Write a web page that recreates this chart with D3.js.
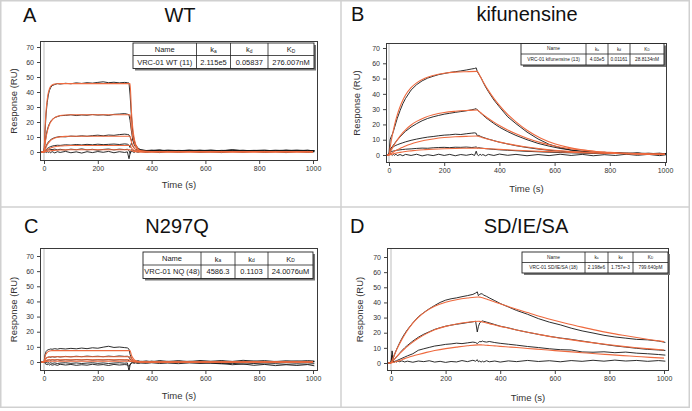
<!DOCTYPE html>
<html><head><meta charset="utf-8">
<script src="https://cdn.jsdelivr.net/npm/d3@7"></script>
<style>html,body{margin:0;padding:0;background:#fff;} svg{display:block;font-family:"Liberation Sans",Arial,sans-serif;}</style>
</head><body><svg id="c" width="692" height="411"></svg>
<script>
// ---------- data ----------
const timeObs = [-10,0,4,8,12,16,20,25,30,40,50,60,80,100,120,140,160,180,200,220,240,260,280,300,310,316,320,325,330,335,340,350,360,380,400,430,460,500,540,580,620,660,700,740,780,820,860,900,940,980,1005];
const timeFit = [-10,0,4,8,12,16,20,25,30,40,50,60,80,100,130,160,200,240,280,320,325,330,335,340,350,360,380,400,430,460,500,550,600,650,700,750,800,850,900,950,1000];
const xTicks = [0,200,400,600,800,1000];
const yTicks = [0,10,20,30,40,50,60,70];
const panelLetters = ["A","B","C","D"];
const panelTitles = ["WT","kifunensine","N297Q","SD/IE/SA"];
const tableHeader = ["Name",["k","a"],["k","d"],["K","D"]];
const tableRowWT  = ["VRC-01 WT (11)","2.115e5","0.05837","276.007nM"];
const tableRowKif = ["VRC-01 kifunensine (13)","4.03e5","0.01161","28.8134nM"];
const tableRowNQ  = ["VRC-01 NQ (48)","4586.3","0.1103","24.0076uM"];
const tableRowSD  = ["VRC-01 SD/IE/SA (18)","2.198e6","1.757e-3","799.640pM"];

// WT
const wtObs1=[0.3,0,14,26,33,38,41,43,44.2,45, 45.6,45.3,45.8,45.5,46.1,45.7,46.2,45.9,46.4,46.8, 46.2,46.5,46.1,46.4,46.2,46,38,24,13,8, 5,2.5,1.5,1,1.2,0.8,1.3,0.9,1.2,0.7, 1.1,0.9,1.4,0.8,1.1,0.7,1.2,0.9,1.3,0.8, 1.0];
const wtObs2=[0,0.2,6,11,14.5,17,18.8,20.5,21.6,23, 23.6,24.2,24.4,24.8,24.3,24.7,24.5,25,24.6,24.8, 24.4,25.1,25.3,25.6,25.2,24.8,21,14,8,5, 3.5,2,1.3,0.9,1,1.4,0.7,1.1,0.8,1.3, 0.6,1.1,0.9,1.2,0.6,1,0.8,1.3,0.7,1.1, 0.8];
const wtObs3=[0,0,2,4,5.5,6.6,7.4,8.2,8.8,9.6, 10,10.3,10.1,10.6,10.4,10.8,10.5,10.9,11.2,10.8, 11.3,11.1,11.6,11.9,11.7,11.4,10,7.5,9,6, 3.5,2,1.2,0.8,1.1,0.6,1,0.7,1.2,0.9, 1.3,0.7,1.5,0.8,1,1.3,0.6,1.1,0.9,1.2, 0.7];
const wtObs4=[0,0,0.8,1.6,2.3,2.8,3.2,3.6,3.9,4.3, 4.5,4.4,4.8,4.6,5,4.7,5.1,4.8,5.2,4.9, 5.1,5.3,5,5.4,5.2,4.5,3,6,4,2.5, 1.8,1.2,0.9,0.7,0.9,1.2,0.5,0.9,0.6,1, 0.8,0.5,1,0.7,0.9,0.5,1,0.7,0.9,0.6, 0.9];
const wtObs5=[0,0,0.5,0.9,1.2,1.4,1.5,1.7,1.6,1.9, 1.5,1.8,1.3,1.9,1.5,2.1,1.4,1.8,1.2,1.7, 2,1.4,1.9,1.6,1.8,1,-1,1.5,1.2,1, 0.8,0.6,0.4,0.6,0.3,0.7,0.2,0.5,0.3,0.6, 0.2,0.5,0.3,0.6,0.4,0.2,0.5,0.3,0.6,0.2, 0.5];
const wtObs6=[0.2,-0.2,0.3,-0.4,0.2,-0.3,0.1,-0.5,0.3,-0.6, 0.2,-0.3,0.4,-0.5,0.1,-0.7,0.2,-0.4,0.3,-0.2, 0.4,-0.5,0.2,-0.3,0.1,-4.5,-1,0.5,0.2,-0.3, 0.3,-0.2,0.4,-0.3,0.2,-0.4,0.3,-0.2,0.4,-0.3, 0.1,-0.4,0.3,-0.2,0.4,-0.3,0.2,-0.4,0.3,-0.2, 0.1];
const wtFit1=[0,0,16,28,35,39.5,42,43.8,44.7,45.3, 45.5,45.6,45.6,45.6,45.6,45.6,45.6,45.6,45.6,45.6, 27,16,9.5,5.6,2,0.8,0.4,0.3,0.3,0.3, 0.3,0.3,0.3,0.3,0.3,0.3,0.3,0.3,0.3,0.3, 0.3];
const wtFit2=[0,0,5.5,10,13.5,16.2,18.2,20,21.3,22.9, 23.8,24.3,24.7,24.8,24.8,24.8,24.8,24.8,24.8,24.8, 16,10,6.2,3.9,1.5,0.6,0.3,0.3,0.3,0.3, 0.3,0.3,0.3,0.3,0.3,0.3,0.3,0.3,0.3,0.3, 0.3];
const wtFit3=[0,0,1.8,3.4,4.8,5.9,6.8,7.7,8.4,9.3, 9.8,10.1,10.4,10.5,10.5,10.5,10.5,10.5,10.5,10.5, 6.8,4.3,2.7,1.7,0.7,0.3,0.2,0.2,0.2,0.2, 0.2,0.2,0.2,0.2,0.2,0.2,0.2,0.2,0.2,0.2, 0.2];
const wtFit4=[0,0,0.6,1.1,1.6,2,2.3,2.7,3,3.5, 3.8,4,4.2,4.3,4.3,4.3,4.3,4.3,4.3,4.3, 2.8,1.8,1.1,0.7,0.3,0.1,0,0,0,0, 0,0,0,0,0,0,0,0,0,0, 0];
const wtFit5=[0,0,0.2,0.4,0.5,0.6,0.7,0.85,0.95,1.1, 1.25,1.33,1.43,1.48,1.5,1.5,1.5,1.5,1.5,1.5, 1,0.6,0.4,0.25,0.1,0.04,0,0,0,0, 0,0,0,0,0,0,0,0,0,0, 0];

// kifunensine
const kifObs1=[0,0.5,10,12,13.5,15.5,18,21,24,29, 33.5,37,42.5,46,48.5,50.3,51.5,52.6,53.3,54, 54.5,55,55.6,56.3,56.6,57,54.5,53,51.5,50, 48,44.5,41.5,36,31.5,25,20.5,15,10.5,7, 4.8,3.2,2.3,1.8,1.2,1.6,0.9,1.4,0.8,1.2, 0.7];
const kifObs2=[0,0.3,3.5,4.5,5.5,6.5,7.5,8.7,9.8,11.8, 13.8,15.5,18.3,20.5,22.4,23.9,25,25.9,26.7,27.3, 27.9,28.4,28.9,29.6,30,30.3,29.5,28.8,27.8,27, 26.2,24.5,23.2,20.6,18.2,15.3,12.8,10,7.6,5.8, 4.3,3.2,2.4,1.8,1.3,1.6,0.9,1.2,0.6,1, 0.7];
const kifObs3=[0,0.2,4,4.5,5,5.4,5.8,6.3,6.7,7.4, 8,8.6,9.6,10.4,11.1,11.7,12.1,12.6,13,13.2, 13.6,13.4,13.9,14.3,14.5,14.2,12.5,12.8,12.3,12, 11.6,11,10.4,9.4,8.4,7.2,6.1,4.9,3.9,3.1, 2.5,2,1.6,1.3,1.8,1,1.4,0.8,1.2,0.7, 1];
const kifObs4=[0,0,2.5,2.2,2.4,2.6,2.8,3,3.1,3.4, 3.6,3.8,4,4.3,4.5,4.4,4.7,4.9,5,4.8, 5.1,5,5.2,4.9,5.1,5.3,4.6,4.8,4.6,4.5, 4.4,4.2,4,3.7,3.4,3.1,2.8,2.4,2.1,1.8, 1.6,1.4,1.2,1.1,0.9,1.3,0.8,1.1,0.7,1, 0.8];
const kifObs5=[0,0.2,1.5,0.4,-0.3,0.5,-0.2,0.6,-0.4,0.3, -0.5,0.4,-0.3,0.5,-0.6,0.2,-0.4,0.5,-0.3,0.4, -0.5,0.3,-0.2,0.5,-0.3,2.5,0.2,-0.4,0.5,-0.2, 0.3,-0.5,0.4,-0.3,0.6,-0.2,0.4,-0.5,0.3,-0.4, 0.5,-0.3,0.4,-0.5,0.2,-0.3,0.5,-0.2,0.4,-0.4, 0.2];
const kifFit1=[0,0,4.7,9,12.8,16.3,19.5,23.1,26.3,31.6, 35.8,39.2,44,47.2,50.2,52,53.5,54.2,54.5,54.7, 53.4,51.6,49.9,48.3,45.2,42.3,37,32.4,26.5,21.7, 16.2,11,7.4,5,3.4,2.3,1.5,1,0.7,0.5, 0.3];
const kifFit2=[0,0,1.6,3.1,4.5,5.8,7,8.5,9.9,12.4, 14.6,16.5,19.6,22,24.6,26.3,27.8,28.6,29.1,29.4, 28.7,28,27.3,26.6,25.2,23.9,21.5,19.3,16.4,13.9, 11,8.1,5.9,4.3,3.2,2.3,1.7,1.2,0.9,0.7, 0.5];
const kifFit3=[0,0,0.5,1,1.5,1.9,2.4,2.9,3.4,4.3, 5.1,5.9,7.2,8.3,9.6,10.5,11.4,11.9,12.2,12.4, 12.2,11.9,11.6,11.3,10.8,10.3,9.3,8.4,7.3,6.3, 5.2,4,3.1,2.4,1.9,1.5,1.1,0.9,0.7,0.5, 0.4];
const kifFit4=[0,0,0.2,0.4,0.6,0.8,1,1.2,1.4,1.7, 2,2.3,2.7,3.1,3.5,3.8,4.1,4.3,4.4,4.5, 4.45,4.4,4.35,4.3,4.2,4.1,3.9,3.7,3.4,3.1, 2.8,2.4,2.1,1.8,1.5,1.3,1.1,0.95,0.8,0.7, 0.6];

// N297Q
const nqObs1=[0.2,0,5,7,7.8,8.2,8.3,8.6,8.4,8.8, 8.5,8.9,8.6,9,8.7,9.2,8.8,9.4,9.1,9.8, 10.4,9.6,9.9,9.5,9.3,8.5,5,2.5,1.2,0.6, 0.5,0.8,0.3,0.7,0.2,0.9,0.4,0.8,0.3,1, 0.5,0.9,0.4,1.1,0.6,0.9,0.3,0.8,0.5,0.9, 0.6];
const nqObs2=[0,0,1.8,2.6,3,3.2,3.3,3.1,3.5,3.2, 3.6,3.3,3.7,3.4,3.8,3.5,3.9,3.6,3.8,3.5, 3.9,3.6,4,3.7,3.8,3.2,2,1,0.6,0.3, 0.2,0.5,-0.1,0.4,-0.2,0.5,0,0.6,-0.1,0.4, 0.1,0.6,-0.2,0.3,0.5,-0.1,0.4,0.1,0.6,0, 0.3];
const nqObs3=[0,0,0.6,0.9,1.1,1.2,1.4,1.1,1.5,1.2, 1.6,1.1,1.5,1.2,1.6,1.3,1.7,1.2,1.5,1.3, 1.6,1.2,1.5,1.3,1.4,0.8,0.4,0.2,0,-0.2, 0.1,-0.3,0.2,-0.4,0.1,-0.3,0.3,-0.2,0.2,-0.4, 0.1,-0.3,0.2,-0.2,0.3,-0.4,0,-0.3,0.2,-0.2, 0.1];
const nqObs4=[0,0,-0.5,-0.3,-0.7,-0.4,-0.8,-0.5,-0.9,-0.6, -1,-0.7,-0.5,-0.9,-0.6,-1,-0.7,-0.5,-0.9,-0.6, -1,-0.7,-0.5,-0.8,-0.6,-6,-2,-0.8,-0.5,-0.9, -0.6,-1,-0.7,-0.9,-0.5,-1,-0.7,-1.1,-0.6,-1, -0.8,-1.2,-0.9,-1.4,-1,-1.3,-1.1,-1.5,-1.2,-1.4, -1.1];
const nqObs5=[0,0,-1,-1.5,-1.8,-1.4,-2,-1.6,-2.1,-1.7, -2.2,-1.5,-2,-1.6,-2.2,-1.8,-2.1,-1.5,-2,-1.7, -2.3,-1.6,-2,-1.7,-1.9,-3,-1.5,-0.5,0.2,-0.3, 0.4,-0.2,0.5,0,0.6,-0.1,0.4,-0.3,0.5,0, -0.6,-1,-1.8,-1.3,-2.2,-1.6,-2.4,-1.8,-2.3,-1.7, -2.5];
const nqFit1=[0,0,3.5,5.4,6.4,6.9,7.2,7.4,7.5,7.5, 7.5,7.5,7.5,7.5,7.5,7.5,7.5,7.5,7.5,7.5, 4.5,2.7,1.6,1,0.35,0.13,0.02,0,0,0, 0,0,0,0,0,0,0,0,0,0, 0];
const nqFit2=[0,0,1.6,2.5,3,3.2,3.35,3.45,3.5,3.5, 3.5,3.5,3.5,3.5,3.5,3.5,3.5,3.5,3.5,3.5, 2.1,1.3,0.75,0.45,0.16,0.06,0,0,0,0, 0,0,0,0,0,0,0,0,0,0, 0];
const nqFit3=[0,0,0.7,1.1,1.3,1.4,1.45,1.48,1.5,1.5, 1.5,1.5,1.5,1.5,1.5,1.5,1.5,1.5,1.5,1.5, 0.9,0.55,0.32,0.2,0.07,0.02,0,0,0,0, 0,0,0,0,0,0,0,0,0,0, 0];
const nqFit4=[0,0,0.25,0.37,0.43,0.47,0.49,0.5,0.5,0.5, 0.5,0.5,0.5,0.5,0.5,0.5,0.5,0.5,0.5,0.5, 0.3,0.18,0.1,0.06,0.02,0,0,0,0,0, 0,0,0,0,0,0,0,0,0,0, 0];

// SD/IE/SA
const sdObs1=[0,0.3,8,3,5,7,8.8,10.8,12.7,16.3, 19.3,22,26.5,30.5,33.3,35.8,38,40,41.5,42.4, 43,43.8,44.5,45.3,46.2,47,44.5,45.3,45.8,45.5, 44.8,44,43,41.2,39.3,37,34.7,32.2,29.3,27, 25.2,23,21.2,19.8,18.3,17.2,16.4,15.6,15.3,14.5, 13.6];
const sdObs2=[0,0.2,5,1.5,2.3,3.2,4,5,6.1,8.2, 10,11.6,14.5,17,19,20.6,22.2,23.3,24.3,25, 25.6,26.1,26.7,27.2,27.6,20.5,24,26.5,27.3,27.8, 27.5,27,26.5,25.4,24.3,23.2,21.8,20.3,18.9,17.6, 16.5,15.6,14.5,13.4,12.3,11.3,10.5,9.7,9,8.6, 8.3];
const sdObs3=[0,0,3,0.8,1,1.2,1.5,1.9,2.3,3.1, 3.9,4.7,6.1,8.4,9.4,10.3,11.2,11.7,12.3,12.6, 13.1,12.8,13.3,13.8,13.5,12.8,13.5,14.2,14,14.5, 14.1,13.8,14.2,13.5,13,12.4,11.8,10.9,10.2,9.4, 8.8,8.6,7.3,7.1,7.4,6.8,7.2,6.5,6.1,5.6, 5.2];
const sdObs4=[0,0.2,2.5,0.9,0.5,1.1,0.6,1.3,0.8,1.4, 0.7,1.2,0.5,1.3,0.9,1.5,0.6,1.1,0.4,1, 0.7,1.6,0.9,1.8,1.2,2.2,0.8,1.3,0.6,1.2, 0.7,1.5,0.8,1.3,0.6,1.4,0.9,1.7,1,1.5, 0.8,1.6,1.1,1.8,1.2,1.9,1.3,1.7,1.1,1.6, 1.2];
const sdFit1=[0,0,1.8,3.6,5.3,6.9,8.5,10.4,12.2,15.6, 18.7,21.5,26.3,30.1,34.4,37.4,40.1,41.8,42.9,43.6, 43.5,43.3,43.1,42.8,42.2,41.6,40.3,39.1,37.3,35.5, 33.3,30.6,28.1,25.8,23.7,21.7,19.9,18.3,16.8,15.4, 14.1];
const sdFit2=[0,0,0.8,1.6,2.4,3.2,4,5,5.9,7.7, 9.4,11,13.8,16.3,19.4,21.9,24.2,25.8,26.9,27.6, 27.5,27.3,27.1,26.9,26.5,26,25.1,24.2,23,21.8, 20.3,18.6,17,15.6,14.3,13.1,12,11,10.1,9.3, 8.6];
const sdFit3=[0,0,0.2,0.4,0.6,0.8,1,1.25,1.5,2.2, 2.9,3.5,4.6,5.6,7,8.2,9.5,10.5,11.4,12, 12,11.95,11.9,11.85,11.7,11.6,11.3,11,10.6,10.2, 9.6,8.9,8.2,7.5,6.8,6.1,5.5,4.9,4.3,3.7, 3.2];

// ---------- layout ----------
const panels = [
  {obs:[wtObs1,wtObs2,wtObs3,wtObs4,wtObs5,wtObs6], fit:[wtFit1,wtFit2,wtFit3,wtFit4,wtFit5], row:tableRowWT,
   frame:[40,41,318,161], xr:[44,313], yr:[152,47], tx:[133,196.5,230.5,268,314], ty:[43,55.5,68.5], tfs:7.5,
   letter:[23,22], title:[180,22], xlab:187.5, ylabX:13},
  {obs:[kifObs1,kifObs2,kifObs3,kifObs4,kifObs5], fit:[kifFit1,kifFit2,kifFit3,kifFit4], row:tableRowKif,
   frame:[386,43,667,163], xr:[389,665], yr:[155,48], tx:[521,586,608,630,664], ty:[43.5,54,65], tfs:4.8,
   letter:[351,21], title:[527,21], xlab:192, ylabX:356},
  {obs:[nqObs1,nqObs2,nqObs3,nqObs4,nqObs5], fit:[nqFit1,nqFit2,nqFit3,nqFit4], row:tableRowNQ,
   frame:[40,248,318,371], xr:[44,313], yr:[362,256], tx:[143,201,235,268,313], ty:[252,265,278.5], tfs:7.5,
   letter:[24,233], title:[177,233], xlab:399, ylabX:13},
  {obs:[sdObs1,sdObs2,sdObs3,sdObs4], fit:[sdFit1,sdFit2,sdFit3], row:tableRowSD,
   frame:[387,248,669,371], xr:[391,664], yr:[363,257], tx:[522,585,608,633,668], ty:[252,262.5,273], tfs:4.8,
   letter:[350,233], title:[526,233], xlab:401, ylabX:359}
];

const svg = d3.select("#c");
svg.append("rect").attr("width",692).attr("height",411).attr("fill","#fff");
// panel dividers
svg.append("rect").attr("x",0.75).attr("y",0.75).attr("width",688.5).attr("height",406.5)
  .attr("fill","none").attr("stroke","#d0d0d0").attr("stroke-width",1.5);
svg.append("line").attr("x1",341).attr("x2",341).attr("y1",0).attr("y2",408).attr("stroke","#d0d0d0").attr("stroke-width",1.5);
svg.append("line").attr("x1",0).attr("x2",690).attr("y1",207).attr("y2",207).attr("stroke","#d0d0d0").attr("stroke-width",1.5);

panels.forEach((p,pi)=>{
  const g = svg.append("g");
  const [fl,ft,fr,fb] = p.frame;
  const x = d3.scaleLinear().domain([0,1000]).range(p.xr);
  const y = d3.scaleLinear().domain([0,70]).range(p.yr);
  const cid = "clip"+pi;
  svg.append("clipPath").attr("id",cid).append("rect").attr("x",fl).attr("y",ft).attr("width",fr-fl).attr("height",fb-ft);

  // zero-time line
  g.append("line").attr("x1",x(0)).attr("x2",x(0)).attr("y1",ft).attr("y2",fb).attr("stroke","#bdbdbd").attr("stroke-width",1);

  const plot = g.append("g").attr("clip-path",`url(#${cid})`);
  const lineObs = d3.line().x((d,i)=>x(timeObs[i])).y(d=>y(d));
  const lineFit = d3.line().x((d,i)=>x(timeFit[i])).y(d=>y(d)).curve(d3.curveMonotoneX);
  plot.selectAll(".obs").data(p.obs).join("path").attr("d",lineObs)
    .attr("fill","none").attr("stroke","#151515").attr("stroke-width",0.9);
  plot.selectAll(".fit").data(p.fit).join("path").attr("d",lineFit)
    .attr("fill","none").attr("stroke","#ee6a3f").attr("stroke-width",1.1);

  // frame
  g.append("rect").attr("x",fl+0.5).attr("y",ft+0.5).attr("width",fr-fl-1).attr("height",fb-ft-1)
    .attr("fill","none").attr("stroke","#3a3a3a").attr("stroke-width",1);

  // axes
  const ya = g.append("g").attr("transform",`translate(${fl},0)`)
    .call(d3.axisLeft(y).tickValues(yTicks).tickSize(3).tickPadding(3).tickFormat(d3.format("d")));
  const xa = g.append("g").attr("transform",`translate(0,${fb})`)
    .call(d3.axisBottom(x).tickValues(xTicks).tickSize(3).tickPadding(2).tickFormat(d3.format("d")));
  [ya,xa].forEach(a=>{
    a.select(".domain").remove();
    a.selectAll("line").attr("stroke","#444");
    a.selectAll("text").attr("font-size",7).attr("fill","#333").attr("font-family",null);
  });

  // axis labels
  g.append("text").attr("x",(fl+fr)/2).attr("y",p.xlab).attr("text-anchor","middle")
    .attr("font-size",9.5).attr("fill","#333").text("Time (s)");
  g.append("text").attr("transform",`translate(${p.ylabX},${(ft+fb)/2}) rotate(-90)`)
    .attr("text-anchor","middle").attr("dominant-baseline","central")
    .attr("font-size",9.5).attr("fill","#333").text("Response (RU)");

  // letter & title
  g.append("text").attr("x",p.letter[0]).attr("y",p.letter[1]).attr("font-size",20).attr("fill","#111").text(panelLetters[pi]);
  g.append("text").attr("x",p.title[0]).attr("y",p.title[1]).attr("text-anchor","middle")
    .attr("font-size",20).attr("fill","#111").text(panelTitles[pi]);

  // table
  const tx = p.tx, ty = p.ty;
  const tg = g.append("g");
  tg.append("rect").attr("x",tx[0]+2).attr("y",ty[0]+2).attr("width",tx[4]-tx[0]).attr("height",ty[2]-ty[0]).attr("fill","#777");
  tg.append("rect").attr("x",tx[0]).attr("y",ty[0]).attr("width",tx[4]-tx[0]).attr("height",ty[2]-ty[0])
    .attr("fill","#fff").attr("stroke","#222").attr("stroke-width",0.9);
  [1,2,3].forEach(k=>tg.append("line").attr("x1",tx[k]).attr("x2",tx[k]).attr("y1",ty[0]).attr("y2",ty[2]).attr("stroke","#222").attr("stroke-width",0.8));
  tg.append("line").attr("x1",tx[0]).attr("x2",tx[4]).attr("y1",ty[1]).attr("y2",ty[1]).attr("stroke","#222").attr("stroke-width",0.8);
  for(let c=0;c<4;c++){
    const cx=(tx[c]+tx[c+1])/2;
    const h = tableHeader[c];
    const ht = tg.append("text").attr("x",cx).attr("y",(ty[0]+ty[1])/2).attr("text-anchor","middle")
      .attr("dominant-baseline","central").attr("font-size",p.tfs).attr("fill","#222");
    if(Array.isArray(h)){
      ht.append("tspan").text(h[0]);
      ht.append("tspan").attr("font-size",p.tfs*0.65).attr("dy",p.tfs*0.25).text(h[1]);
    } else ht.text(h);
    tg.append("text").attr("x",cx).attr("y",(ty[1]+ty[2])/2).attr("text-anchor","middle")
      .attr("dominant-baseline","central").attr("font-size",p.tfs).attr("fill","#222").text(p.row[c]);
  }
});
</script>
</body></html>
